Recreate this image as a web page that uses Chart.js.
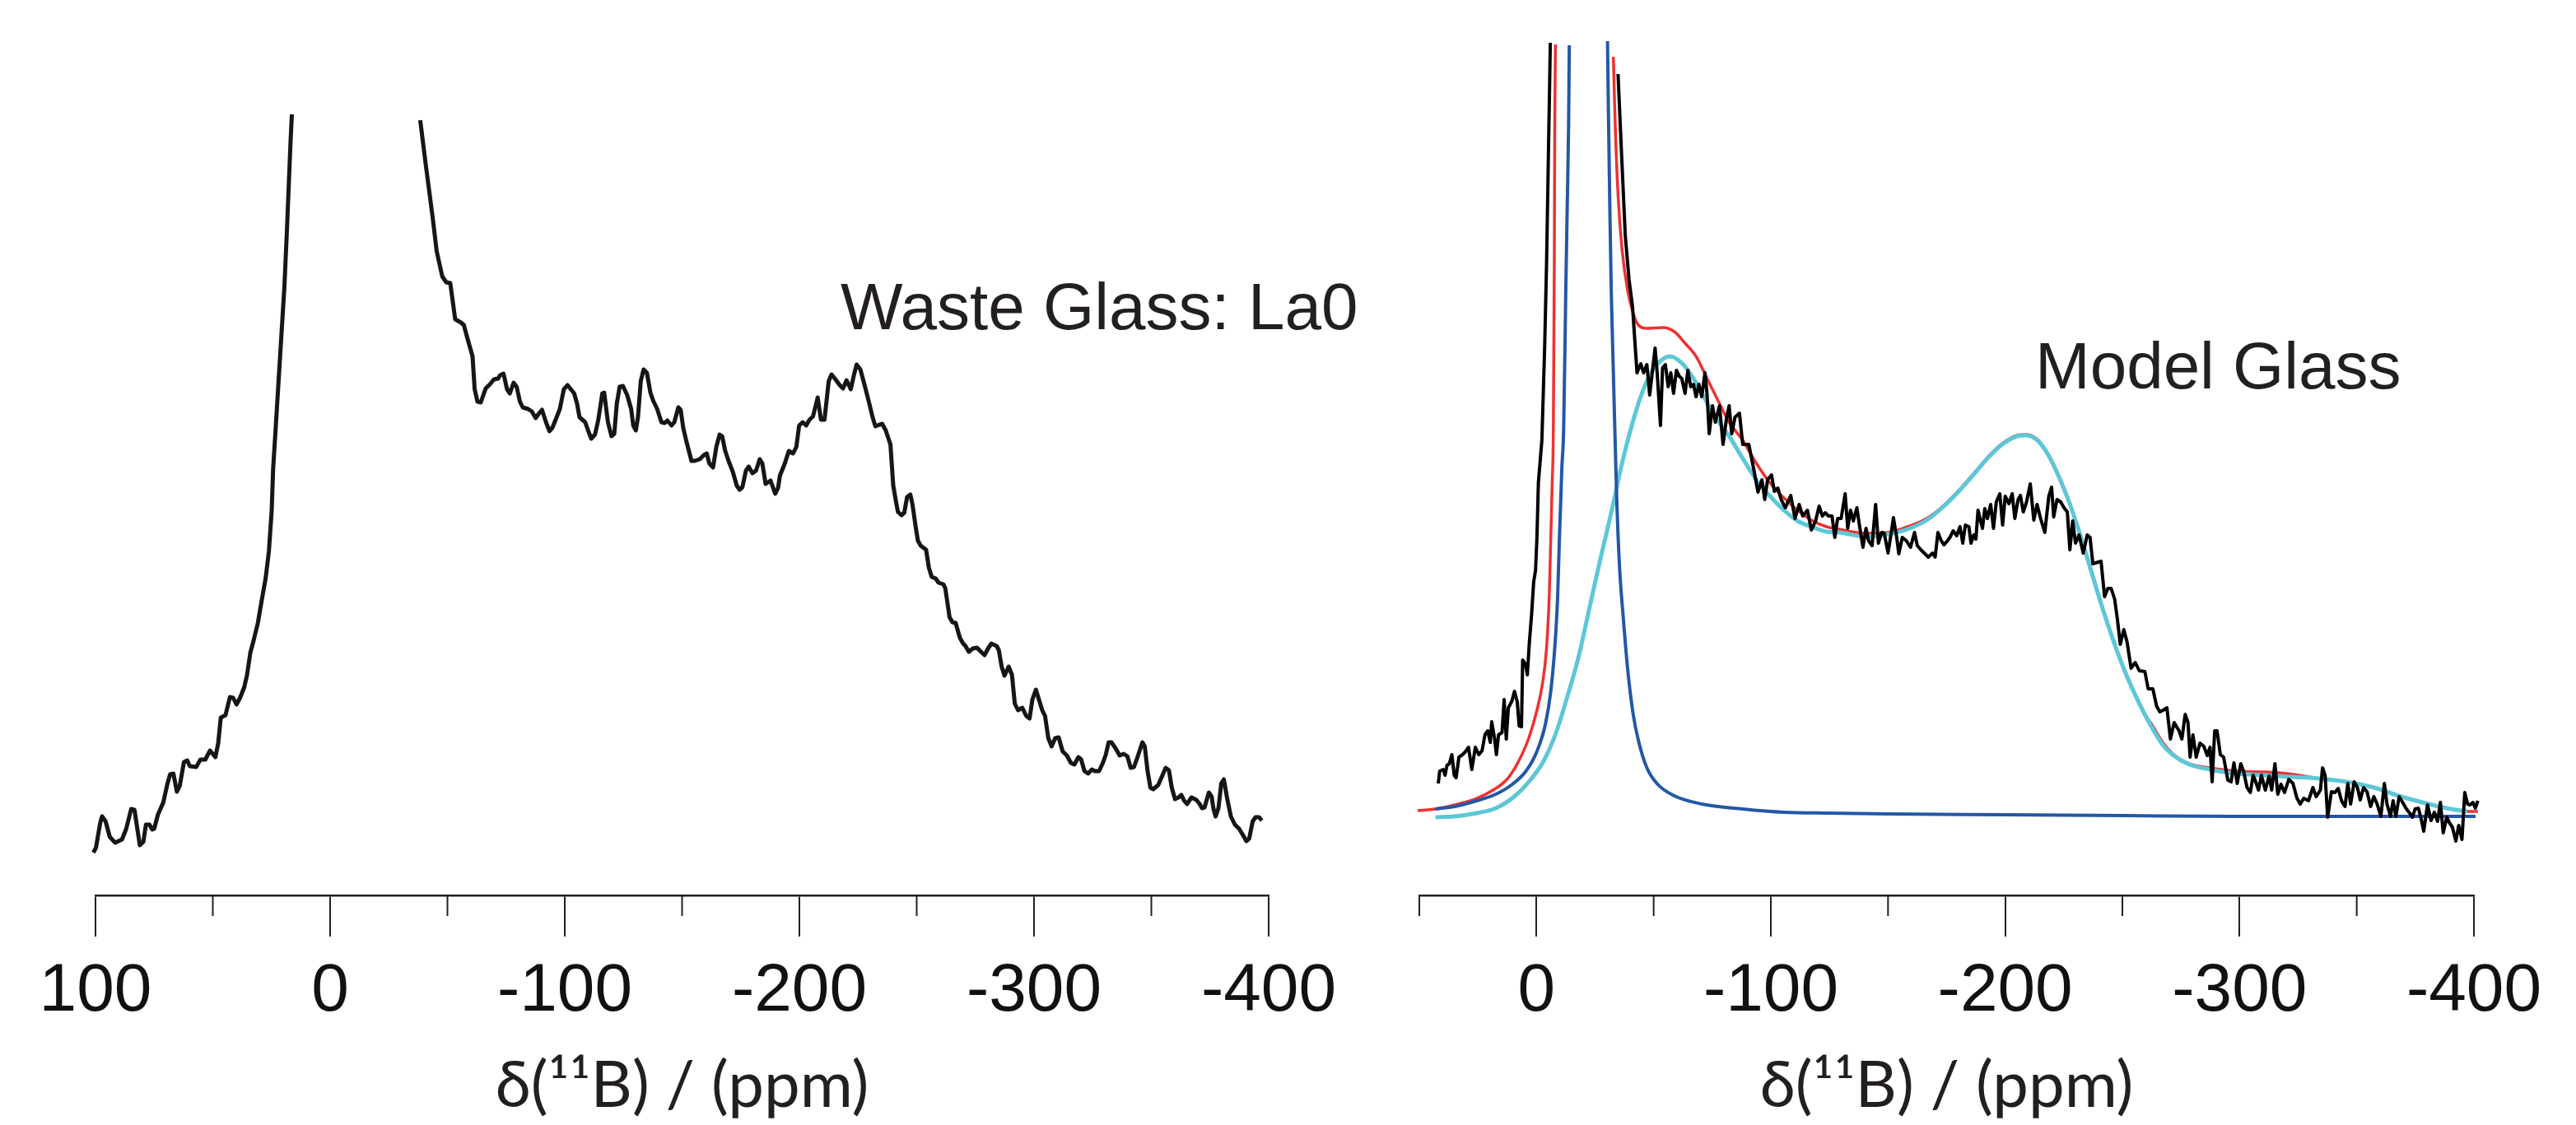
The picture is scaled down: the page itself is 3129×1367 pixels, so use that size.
<!DOCTYPE html>
<html>
<head>
<meta charset="utf-8">
<script src="https://cdn.jsdelivr.net/npm/chart.js@4.4.1/dist/chart.umd.min.js"></script>
<style>
  html, body { margin: 0; padding: 0; background: #fff; }
  body { width: 3129px; height: 1367px; position: relative; overflow: hidden; }
  canvas { position: absolute; top: 0; }
  #wasteChart { left: 16px; }
  #modelChart { left: 1634px; }
  .label {
    position: absolute; font-family: "Liberation Sans", Arial, sans-serif;
    font-size: 80px; line-height: 80px; color: #231f20; white-space: nowrap;
  }
</style>
</head>
<body>
<canvas id="wasteChart" width="1629" height="1367"></canvas>
<canvas id="modelChart" width="1475" height="1367"></canvas>
<div class="label" style="left:1021px; top:333px;">Waste Glass: La0</div>
<div class="label" style="left:2472px; top:405px;">Model Glass</div>
<script>
// ---- tick values ----
var wasteMajorTicks = [100, 0, -100, -200, -300, -400];
var wasteMinorTicks = [50, -50, -150, -250, -350];
var modelMajorTicks = [0, -100, -200, -300, -400];
var modelMinorTicks = [50, -50, -150, -250, -350];
var axisTitle = "δ(¹¹B) / (ppm)";

// ---- Waste Glass: La0 (left panel), two branches either side of the clipped peak ----
var wasteLowPpm = [100.9, 99.8, 98.0, 97.2, 95.7, 93.9, 91.6, 88.7, 86.9, 84.8, 83.4, 81.1, 79.6, 78.5, 77.0,
  75.8, 75.0, 73.4, 71.1, 69.4, 68.2, 66.8, 65.3, 64.1, 62.3, 60.9, 59.8, 57.1, 55.3, 53.2, 51.2, 48.9, 47.7,
  46.6, 44.6, 42.7, 41.3, 39.9, 38.4, 36.6, 35.4, 34.0, 32.5, 30.8, 29.0, 27.5, 26.1, 24.9, 24.3, 23.2, 21.0,
  19.5, 18.4, 16.9, 16.3];
var wasteLowInt = [5.2, 5.8, 8.8, 9.6, 9.0, 7.1, 6.4, 6.8, 8.1, 10.5, 10.4, 6.1, 6.5, 8.6, 8.6,
  8.0, 8.1, 9.8, 11.3, 13.5, 14.7, 14.8, 12.6, 13.3, 16.2, 16.4, 15.7, 15.6, 16.5, 16.5, 17.6, 16.8, 18.5,
  21.6, 21.9, 24.1, 24.0, 23.2, 24.0, 25.3, 26.8, 29.5, 31.1, 33.1, 36.1, 38.5, 41.8, 46.8, 51.8, 56.8, 67.0,
  73.9, 80.9, 91.4, 94.9];
var wasteHighPpm = [-38.4, -40.8, -43.6, -45.4, -47.8, -49.5, -51.2, -53.3, -55.8, -57.0, -58.7, -60.7, -61.6,
  -62.8, -64.2, -66.3, -68.1, -69.8, -71.6, -72.4, -73.9, -75.4, -76.6, -78.2, -79.5, -80.9, -82.1, -84.4, -86.0,
  -87.6, -89.1, -90.3, -92.0, -93.5, -94.7, -96.1, -97.9, -99.6, -101.2, -102.6, -104.0, -105.2, -106.3, -108.7,
  -110.2, -111.3, -112.9, -114.3, -116.0, -116.8, -118.4, -119.9, -121.1, -122.2, -123.4, -124.8, -126.6, -128.3,
  -129.2, -130.3, -131.2, -132.4, -133.6, -135.0, -136.5, -137.7, -139.4, -141.2, -142.6, -143.7, -145.5, -146.7,
  -148.4, -149.4, -150.5, -151.9, -154.0, -155.4, -157.5, -159.3, -160.5, -161.6, -163.2, -164.6, -166.0, -167.1,
  -168.3, -169.8, -171.6, -173.3, -174.5, -175.7, -177.2, -178.4, -180.0, -181.5, -183.1, -184.2, -185.6, -187.7,
  -189.7, -190.9, -191.7, -193.8, -195.5, -197.3, -198.7, -199.9, -201.4, -202.9, -204.3, -205.8, -207.8, -209.2,
  -210.7, -212.5, -213.7, -215.4, -217.2, -218.6, -220.1, -221.9, -223.3, -224.4, -226.0, -227.7, -229.5, -231.2,
  -232.4, -234.2, -235.3, -236.8, -238.8, -240.0, -241.2, -242.0, -243.5, -244.7, -245.9, -247.3, -248.2, -249.4,
  -250.5, -251.7, -254.0, -255.2, -256.4, -258.1, -259.3, -261.4, -262.2, -264.0, -265.2, -266.6, -268.4, -269.8,
  -270.8, -272.2, -273.9, -275.7, -277.4, -278.9, -280.4, -281.8, -284.1, -285.0, -286.2, -287.4, -289.2, -290.6,
  -291.8, -293.2, -295.0, -296.7, -298.1, -299.3, -300.8, -302.3, -303.5, -304.7, -306.1, -307.5, -309.0, -310.5,
  -312.2, -314.0, -315.7, -317.2, -318.9, -320.1, -321.5, -323.1, -324.6, -326.0, -327.7, -329.2, -330.6, -331.8,
  -333.0, -334.7, -336.5, -338.2, -339.8, -341.2, -342.6, -344.1, -346.2, -347.2, -348.4, -349.6, -350.8, -352.9,
  -354.6, -356.1, -357.5, -358.7, -360.1, -361.6, -362.8, -364.0, -365.2, -367.1, -369.2, -370.6, -371.6, -372.7,
  -374.5, -375.7, -376.5, -377.4, -378.6, -379.8, -380.9, -382.3, -383.9, -385.6, -387.4, -389.1, -390.5, -391.7,
  -393.2, -394.4, -395.9, -397.1];
var wasteHighInt = [94.2, 88.7, 82.6, 78.3, 75.2, 74.5, 74.4, 70.0, 69.6, 69.3, 67.5, 65.5, 61.5,
  60.0, 59.9, 61.6, 62.1, 62.7, 62.8, 63.2, 63.4, 61.5, 61.0, 62.3, 61.8, 60.0, 59.3, 59.1, 58.8,
  58.0, 58.6, 59.0, 57.5, 56.4, 56.8, 57.8, 59.1, 61.5, 62.0, 61.5, 61.0, 59.8, 58.1, 57.5,
  56.3, 55.5, 56.0, 57.8, 61.0, 61.1, 57.5, 55.8, 56.1, 59.8, 61.8, 61.9, 60.8, 59.1,
  57.1, 56.5, 58.1, 62.5, 63.9, 63.5, 61.1, 60.1, 59.1, 57.5, 57.4, 57.7, 57.1, 57.5,
  59.3, 59.0, 56.8, 55.1, 52.8, 52.8, 53.0, 53.5, 53.7, 52.5, 52.0, 54.5, 56.0, 55.8,
  54.1, 52.8, 51.5, 49.8, 49.3, 49.6, 51.6, 52.1, 51.3, 51.6, 53.0, 52.5, 50.0, 50.4,
  48.8, 49.5, 51.0, 52.5, 54.0, 53.7, 54.5, 57.1, 57.5, 57.1, 57.8, 58.2, 60.5, 57.8,
  57.8, 62.5, 63.3, 62.7, 62.0, 61.6, 62.6, 61.5, 63.3, 64.5, 63.9, 62.1, 60.1, 58.1,
  57.0, 57.2, 57.3, 56.5, 54.8, 49.8, 47.8, 46.6, 46.2, 46.5, 48.4, 48.7, 47.5, 45.1,
  43.1, 42.5, 42.0, 39.8, 38.7, 38.5, 38.0, 37.8, 37.3, 33.8, 33.2, 33.1, 31.3, 30.6,
  30.3, 29.6, 30.0, 30.1, 29.6, 29.2, 30.0, 30.6, 30.3, 29.8, 27.8, 26.7, 27.8, 26.8,
  23.3, 22.5, 22.8, 21.8, 21.5, 23.8, 25.0, 23.6, 22.5, 21.8, 19.1, 18.1, 19.1, 19.2,
  17.5, 17.0, 16.1, 15.9, 16.8, 16.5, 15.1, 14.8, 15.3, 15.1, 15.1, 16.0, 17.1, 18.6,
  18.6, 17.9, 17.0, 17.2, 16.9, 15.5, 15.6, 16.8, 18.6, 18.1, 15.1, 13.1, 12.9, 13.4,
  14.5, 15.5, 15.2, 13.1, 11.7, 11.9, 12.2, 11.5, 11.1, 11.9, 11.6, 11.1, 10.6, 10.7,
  12.5, 12.0, 10.5, 9.6, 10.6, 13.6, 14.1, 11.8, 9.6, 8.6, 8.1, 7.3, 6.6, 6.9,
  9.0, 9.5, 9.5, 9.1];

// ---- Model Glass (right panel): experiment ----
var expLowPpm = [41.9, 41.3, 39.8, 39.0, 38.2, 37.2, 36.1, 35.1, 34.3, 33.1, 31.6, 30.2, 29.0, 27.6, 26.1, 24.6,
  23.2, 22.0, 20.8, 19.7, 19.1, 17.9, 17.1, 16.2, 14.7, 13.8, 12.9, 12.0, 10.5, 9.4, 8.2, 7.4, 6.4, 5.9, 4.7,
  3.9, 3.1, 2.1, 1.2, 0.4, -0.2, -0.8, -2.3, -3.5, -4.3, -4.9, -5.5, -5.9];
var expLowInt = [13.6, 15.1, 15.3, 14.6, 15.8, 16.0, 17.1, 14.6, 14.3, 16.8, 17.1, 17.5, 18.0, 15.3, 18.0, 17.1,
  17.6, 19.5, 20.0, 18.6, 21.1, 19.1, 17.1, 19.5, 19.8, 23.8, 19.0, 22.8, 23.6, 24.8, 23.5, 20.6, 20.5, 28.6, 28.1,
  26.8, 30.5, 34.1, 38.1, 39.5, 43.5, 50.1, 55.3, 66.8, 76.8, 86.8, 96.8, 103.6];
var expHighPpm = [-34.8, -36.3, -37.9, -39.5, -41.0, -42.1, -42.9, -44.5, -45.7, -47.1, -48.3, -49.4, -50.6, -51.5,
  -52.9, -53.8, -55.0, -56.2, -57.3, -58.5, -59.7, -60.9, -62.0, -63.4, -64.6, -65.8, -67.0, -68.1, -69.3, -70.5,
  -71.9, -72.8, -73.7, -75.1, -76.3, -78.1, -79.6, -81.0, -82.2, -83.3, -84.7, -86.6, -88.0, -90.6, -92.7, -94.5,
  -96.2, -97.4, -98.6, -100.3, -101.5, -103.0, -104.4, -106.2, -108.5, -110.3, -112.1, -113.6, -115.6, -117.3,
  -119.1, -120.6, -122.0, -123.2, -124.6, -126.1, -127.3, -128.5, -130.0, -131.7, -132.8, -134.0, -135.2, -136.7,
  -137.9, -139.3, -140.6, -141.7, -143.2, -144.7, -145.9, -147.3, -148.4, -150.0, -151.4, -152.3, -153.7, -154.6,
  -156.1, -157.8, -159.6, -161.3, -162.5, -164.0, -165.4, -167.2, -169.0, -170.1, -171.3, -172.7, -173.9, -175.4,
  -176.6, -177.8, -179.3, -180.7, -181.9, -183.0, -184.5, -185.4, -186.6, -187.5, -188.4, -189.5, -190.3, -191.3,
  -192.4, -193.8, -195.0, -196.2, -197.7, -198.9, -200.0, -201.6, -203.0, -204.1, -205.5, -206.5, -207.7, -209.1,
  -210.7, -212.2, -213.6, -215.1, -216.9, -218.6, -219.8, -220.7, -222.1, -223.7, -225.1, -226.5, -227.6, -228.8,
  -230.0, -231.5, -233.3, -235.0, -236.2, -237.4, -239.7, -240.9, -242.4, -243.8, -245.2, -246.7, -247.9, -249.1,
  -250.6, -252.0, -253.7, -255.5, -257.2, -259.6, -261.0, -263.0, -264.6, -266.0, -267.4, -269.0, -270.5, -272.1,
  -274.2, -275.4, -276.8, -278.0, -278.9, -280.1, -281.5, -283.1, -284.8, -286.2, -287.4, -288.3, -289.4, -290.4,
  -291.8, -293.2, -295.0, -296.4, -297.6, -299.0, -300.5, -301.7, -303.2, -304.6, -305.8, -306.9, -308.1, -309.3,
  -311.0, -312.6, -313.7, -315.1, -316.3, -317.7, -319.2, -321.0, -322.8, -324.5, -325.9, -327.4, -329.4, -331.3,
  -332.7, -334.5, -335.4, -336.5, -337.6, -339.2, -340.7, -342.1, -343.5, -345.0, -346.2, -347.4, -348.9, -350.3,
  -351.5, -352.9, -354.4, -355.9, -357.3, -358.7, -360.3, -361.8, -362.9, -364.4, -365.5, -366.7, -368.1, -369.6,
  -371.2, -372.6, -373.8, -374.9, -376.3, -377.5, -378.6, -380.2, -381.7, -383.1, -384.5, -385.7, -386.9, -388.4,
  -389.6, -390.8, -392.3, -393.5, -394.9, -396.1, -397.3, -398.4, -399.6, -400.6, -401.7];
var expHighInt = [99.8, 90.1, 80.1, 74.8, 71.5, 66.8, 63.5, 64.6, 63.5, 64.5, 60.8, 63.5, 66.5, 63.5,
  57.1, 64.1, 64.5, 61.8, 63.5, 61.0, 63.8, 63.1, 62.8, 61.0, 63.8, 61.8, 62.1, 60.6, 62.1, 60.6,
  63.5, 60.8, 56.1, 59.5, 57.5, 59.5, 54.8, 57.8, 59.5, 56.1, 58.1, 58.6, 54.8, 54.8, 51.8, 49.0,
  50.5, 48.1, 50.5, 51.1, 49.1, 49.5, 48.1, 47.1, 48.6, 45.8, 47.5, 46.1, 46.8, 44.4,
  45.5, 47.3, 46.1, 46.5, 46.1, 46.1, 43.5, 45.8, 45.8, 48.8, 44.6, 46.8, 45.5, 47.1,
  44.8, 42.3, 44.6, 43.1, 42.5, 47.5, 42.8, 44.1, 44.0, 41.6, 44.1, 45.9, 43.5, 41.5,
  43.5, 43.1, 42.3, 44.1, 42.5, 42.0, 41.6, 41.1, 41.6, 41.1, 44.1, 43.1, 42.6, 43.1,
  43.6, 44.3, 43.7, 44.8, 42.8, 45.0, 44.8, 42.8, 43.8, 43.3, 46.8, 45.5, 44.6, 47.0,
  45.8, 47.5, 44.6, 47.8, 48.8, 45.0, 48.5, 47.6, 48.8, 45.8, 48.1, 48.6, 46.6, 47.8,
  50.0, 45.6, 47.5, 45.8, 44.1, 48.5, 49.6, 46.0, 48.1, 47.8, 47.1, 46.6, 42.0, 45.5,
  42.8, 43.8, 41.6, 43.8, 43.5, 40.3, 40.5, 40.6, 36.3, 37.3, 37.3, 36.0, 33.5, 30.5,
  32.3, 30.8, 27.6, 28.3, 27.3, 27.2, 25.1, 25.1, 23.0, 22.3, 22.5, 22.8, 19.0, 21.0,
  20.0, 19.0, 22.0, 21.0, 16.8, 19.5, 16.8, 18.5, 18.1, 17.0, 18.0, 13.8, 20.0, 20.0,
  17.1, 16.8, 14.0, 13.8, 16.1, 13.6, 16.0, 15.1, 13.1, 12.5, 14.6, 13.8, 12.8, 14.6,
  12.8, 14.5, 12.8, 16.0, 12.3, 13.5, 12.5, 14.1, 13.6, 11.8, 11.1, 11.8, 11.5, 13.1,
  12.0, 12.8, 15.5, 14.6, 9.5, 12.6, 12.5, 13.0, 11.5, 10.8, 13.6, 11.1, 13.8, 13.1,
  11.6, 13.1, 12.6, 10.8, 12.0, 11.1, 9.6, 13.6, 11.1, 9.6, 11.5, 9.6, 12.0, 11.3,
  10.5, 10.0, 9.5, 10.5, 10.6, 9.3, 7.8, 11.0, 9.1, 10.1, 9.0, 11.3, 7.6, 9.5,
  8.8, 8.3, 6.6, 8.5, 6.8, 12.5, 11.1, 11.0, 11.3, 10.6, 11.5];

// ---- Model Glass: narrow component (dark blue) ----
var narrowLowPpm = [43.1, 34.9, 25.5, 17.3, 10.3, 4.5, -0.2, -3.8, -6.1, -7.8, -9.0, -9.8, -10.8, -11.6, -12.5,
  -13.1, -13.7, -14.0];
var narrowLowInt = [10.5, 10.8, 11.5, 12.3, 13.5, 15.1, 17.5, 20.8, 24.8, 30.1, 36.1, 43.5, 51.8, 56.8, 73.5,
  83.5, 93.5, 103.3];
var narrowHighPpm = [-30.3, -30.7, -31.3, -31.9, -32.8, -33.6, -34.2, -35.4, -37.1, -38.9, -41.2, -43.5, -47.1,
  -51.7, -58.8, -70.5, -88.0, -105.6, -124.3, -150, -200, -250, -300, -350, -400.7];
var narrowHighInt = [103.8, 95.1, 83.5, 73.5, 63.5, 54.8, 48.5, 40.1, 33.5, 27.5, 22.1, 18.8, 15.5,
  13.5, 12.1, 11.1, 10.5, 10.1, 10.0, 9.9, 9.8, 9.7, 9.6, 9.6, 9.6];

// ---- Model Glass: broad component (cyan) ----
var broadPpm = [43.1, 34.9, 25.5, 17.3, 9.1, 3.3, -2.6, -8.4, -13.1, -17.8, -22.5, -27.2, -31.9, -36.5, -42.4,
  -47.1, -51.7, -57.0, -62.3, -67.0, -71.6, -76.3, -82.2, -88.0, -93.8, -99.7, -105.6, -111.4, -117.3, -123.7,
  -129.0, -140.7, -150.1, -158.3, -166.5, -173.5, -180.5, -187.6, -193.4, -199.2, -205.1, -208.6, -213.3, -218.0,
  -222.7, -227.4, -232.1, -236.7, -241.4, -246.1, -250.8, -255.4, -260.1, -267.2, -271.9, -277.8, -287.2, -298.9,
  -310.5, -322.3, -334.0, -345.7, -357.4, -369.1, -380.8, -390.2, -397.2];
var broadInt = [9.5, 9.6, 10.0, 10.6, 12.1, 13.8, 16.1, 19.8, 24.1, 28.8, 34.8, 40.8, 46.5, 52.5, 58.8,
  62.5, 64.6, 65.5, 64.6, 62.8, 60.5, 58.1, 55.8, 53.1, 50.5, 48.5, 46.8, 45.5, 44.8, 44.2,
  44.1, 43.6, 43.9, 44.5, 45.6, 47.2, 49.2, 51.5, 53.4, 54.9, 55.8, 55.9, 55.4, 53.7,
  51.0, 47.7, 43.7, 39.4, 35.0, 31.0, 27.4, 24.4, 21.7, 18.3, 17.0, 16.0, 15.3, 14.8,
  14.6, 14.4, 14.2, 13.8, 13.1, 12.0, 11.1, 10.5, 10.2];

// ---- Model Glass: total fit (red) ----
var sumLowPpm = [50.7, 43.1, 34.9, 25.5, 18.5, 12.6, 8.0, 3.3, -0.2, -2.6, -4.3, -5.5, -6.1, -6.7, -7.2, -7.6,
  -7.8, -8.1];
var sumLowInt = [10.3, 10.5, 11.0, 11.8, 12.8, 14.1, 16.1, 19.1, 22.5, 25.8, 30.1, 36.8, 43.5, 50.1, 56.8, 76.8,
  93.5, 103.4];
var sumHighPpm = [-32.8, -33.6, -34.8, -36.5, -38.9, -41.2, -43.5, -47.1, -54.1, -58.8, -63.4, -68.1, -72.8,
  -77.5, -82.2, -88.0, -93.8, -99.7, -105.6, -111.4, -117.3, -123.7, -129.0, -140.7, -150.1, -158.3, -166.5,
  -173.5, -180.5, -187.6, -193.4, -199.2, -205.1, -208.6, -213.3, -218.0, -222.7, -227.4, -232.1, -236.7, -241.4,
  -246.1, -250.8, -255.4, -260.1, -262.5, -267.2, -271.9, -277.8, -287.2, -298.9, -310.5, -320.5, -334.0, -345.7,
  -357.4, -369.1, -380.8, -390.2, -397.2, -401.7];
var sumHighInt = [101.9, 93.5, 85.1, 78.5, 73.5, 70.8, 69.3, 68.9, 69.0, 68.5, 67.1, 65.5, 62.8,
  60.1, 57.5, 55.3, 52.5, 50.1, 48.3, 46.8, 45.6, 44.8, 44.5, 44.0, 44.1, 44.8, 45.8,
  47.3, 49.3, 51.6, 53.5, 55.0, 55.9, 56.0, 55.5, 53.8, 51.1, 47.8, 43.8, 39.5, 35.1,
  31.1, 27.5, 24.5, 21.8, 20.8, 18.6, 17.1, 16.1, 15.5, 15.1, 15.0, 14.8, 14.2, 13.8,
  13.1, 12.0, 11.1, 10.5, 10.2, 10.2];

var INK = "#231f20";
var tickFont = { family: "'Liberation Sans', Arial, sans-serif", size: 82 };
var titleFont = { family: "Lato, 'Open Sans', sans-serif", size: 78 };

function pts(xs, ys) {
  return xs.map(function (x, i) { return { x: x, y: ys[i] }; });
}

function line(xs, ys, color, width, smooth) {
  return {
    data: pts(xs, ys),
    borderColor: color,
    borderWidth: width,
    pointRadius: 0,
    fill: false,
    clip: 8,
    tension: 0,
    borderJoinStyle: "round",
    cubicInterpolationMode: smooth ? "monotone" : "default"
  };
}

// short (minor) tick marks drawn from the x scale's own pixel mapping
var minorTicksPlugin = {
  id: "minorTicks",
  afterDraw: function (chart, args, opts) {
    var sc = chart.scales.x, ctx = chart.ctx;
    ctx.save();
    ctx.strokeStyle = INK;
    ctx.lineWidth = 2;
    opts.values.forEach(function (v) {
      var px = sc.getPixelForValue(v);
      ctx.beginPath();
      ctx.moveTo(px, sc.top);
      ctx.lineTo(px, sc.top + opts.length);
      ctx.stroke();
    });
    ctx.restore();
  }
};

function makeOptions(xMin, xMax, majors, minors, pad) {
  return {
    responsive: false,
    animation: false,
    devicePixelRatio: 1,
    events: [],
    layout: { padding: { left: pad.left, right: pad.right, top: 48, bottom: 0 } },
    plugins: {
      legend: { display: false },
      tooltip: { enabled: false },
      minorTicks: { values: minors, length: 25 }
    },
    scales: {
      x: {
        type: "linear",
        reverse: true,
        min: xMin,
        max: xMax,
        afterBuildTicks: function (scale) {
          scale.ticks = majors.map(function (v) { return { value: v }; });
        },
        afterFit: function (scale) { scale.height = 279; },
        grid: { drawOnChartArea: false, drawTicks: true, tickLength: 50, color: INK, lineWidth: 2 },
        border: { display: true, color: INK, width: 2.5 },
        ticks: { font: tickFont, color: "#111", padding: 18, maxRotation: 0, autoSkip: false },
        title: { display: true, text: axisTitle, font: titleFont, color: INK, padding: 0 }
      },
      y: { display: false, min: 0, max: 104 }
    }
  };
}

new Chart(document.getElementById("wasteChart"), {
  type: "line",
  data: {
    datasets: [
      line(wasteLowPpm, wasteLowInt, "#161616", 5, false),
      line(wasteHighPpm, wasteHighInt, "#161616", 5, false)
    ]
  },
  options: makeOptions(-400, 100, wasteMajorTicks, wasteMinorTicks, { left: 100, right: 104 }),
  plugins: [minorTicksPlugin]
});

new Chart(document.getElementById("modelChart"), {
  type: "line",
  data: {
    datasets: [
      line(expLowPpm, expLowInt, "#000000", 4, false),
      line(expHighPpm, expHighInt, "#000000", 4, false),
      line(narrowLowPpm, narrowLowInt, "#2457a6", 4, true),
      line(narrowHighPpm, narrowHighInt, "#2457a6", 4, true),
      line(broadPpm, broadInt, "#5cc7d7", 5, true),
      line(sumLowPpm, sumLowInt, "#ee3131", 3.5, true),
      line(sumHighPpm, sumHighInt, "#ee3131", 3.5, true)
    ]
  },
  options: makeOptions(-400, 50, modelMajorTicks, modelMinorTicks, { left: 90, right: 104 }),
  plugins: [minorTicksPlugin]
});
</script>
</body>
</html>
